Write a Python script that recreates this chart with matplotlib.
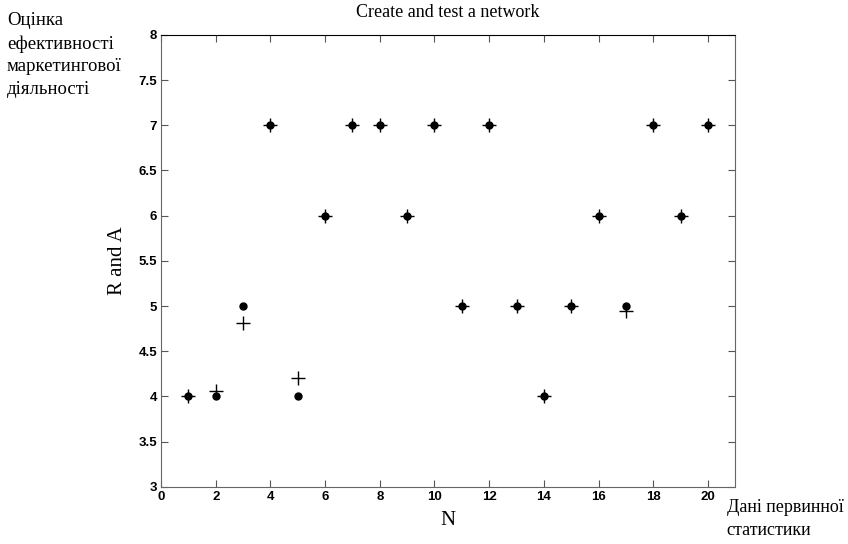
import matplotlib
matplotlib.use('Agg')
import matplotlib.pyplot as plt

# дані
n = list(range(1, 21))
a_vals = [4, 4, 5, 7, 4, 6, 7, 7, 6, 7, 5, 7, 5, 4, 5, 6, 5, 7, 6, 7]
r_vals = [4, 4.06, 4.81, 7, 4.2, 6, 7, 7, 6, 7, 5, 7, 5, 4, 5, 6, 4.95, 7, 6, 7]
x_ticks = list(range(0, 21, 2))
y_ticks = [3, 3.5, 4, 4.5, 5, 5.5, 6, 6.5, 7, 7.5, 8]

serif = ['Liberation Serif', 'DejaVu Serif']

fig = plt.figure(figsize=(8.48, 5.44), dpi=100)
ax = fig.add_axes([0.190, 0.105, 0.677, 0.831])

ax.plot(n, a_vals, 'o', color='black', markersize=5, linestyle='none')
ax.plot(n, r_vals, '+', color='black', markersize=10, markeredgewidth=1.0, linestyle='none')

ax.set_xlim(0, 21)
ax.set_ylim(3, 8)
ax.set_xticks(x_ticks)
ax.set_yticks(y_ticks)
ax.set_xticklabels([str(t) for t in x_ticks])
ax.set_yticklabels(['3', '3.5', '4', '4.5', '5', '5.5', '6', '6.5', '7', '7.5', '8'])
ax.tick_params(direction='in', length=5, width=0.8, color='#555555',
               labelsize=9.5, pad=3, top=True, right=True)
for lbl in ax.get_xticklabels() + ax.get_yticklabels():
    lbl.set_fontfamily('Liberation Sans')
    lbl.set_fontweight('bold')
for side in ['left', 'right', 'bottom']:
    ax.spines[side].set_color('#666666')
ax.spines['top'].set_color('black')

ax.set_title('Create and test a network', fontfamily=serif, fontsize=13, pad=13)
ax.set_xlabel('N', fontfamily=serif, fontsize=15, labelpad=6)
ax.set_ylabel('R and A', fontfamily=serif, fontsize=15, labelpad=8)

fig.text(0.008, 0.978, 'Оцінка\nефективності\nмаркетингової\nдіяльності',
         fontfamily=serif, fontsize=13.5, va='top', ha='left', linespacing=1.45)
fig.text(0.857, 0.082, 'Дані первинної\nстатистики',
         fontfamily=serif, fontsize=13, va='top', ha='left', linespacing=1.45)

plt.savefig('out.png', dpi=100)
